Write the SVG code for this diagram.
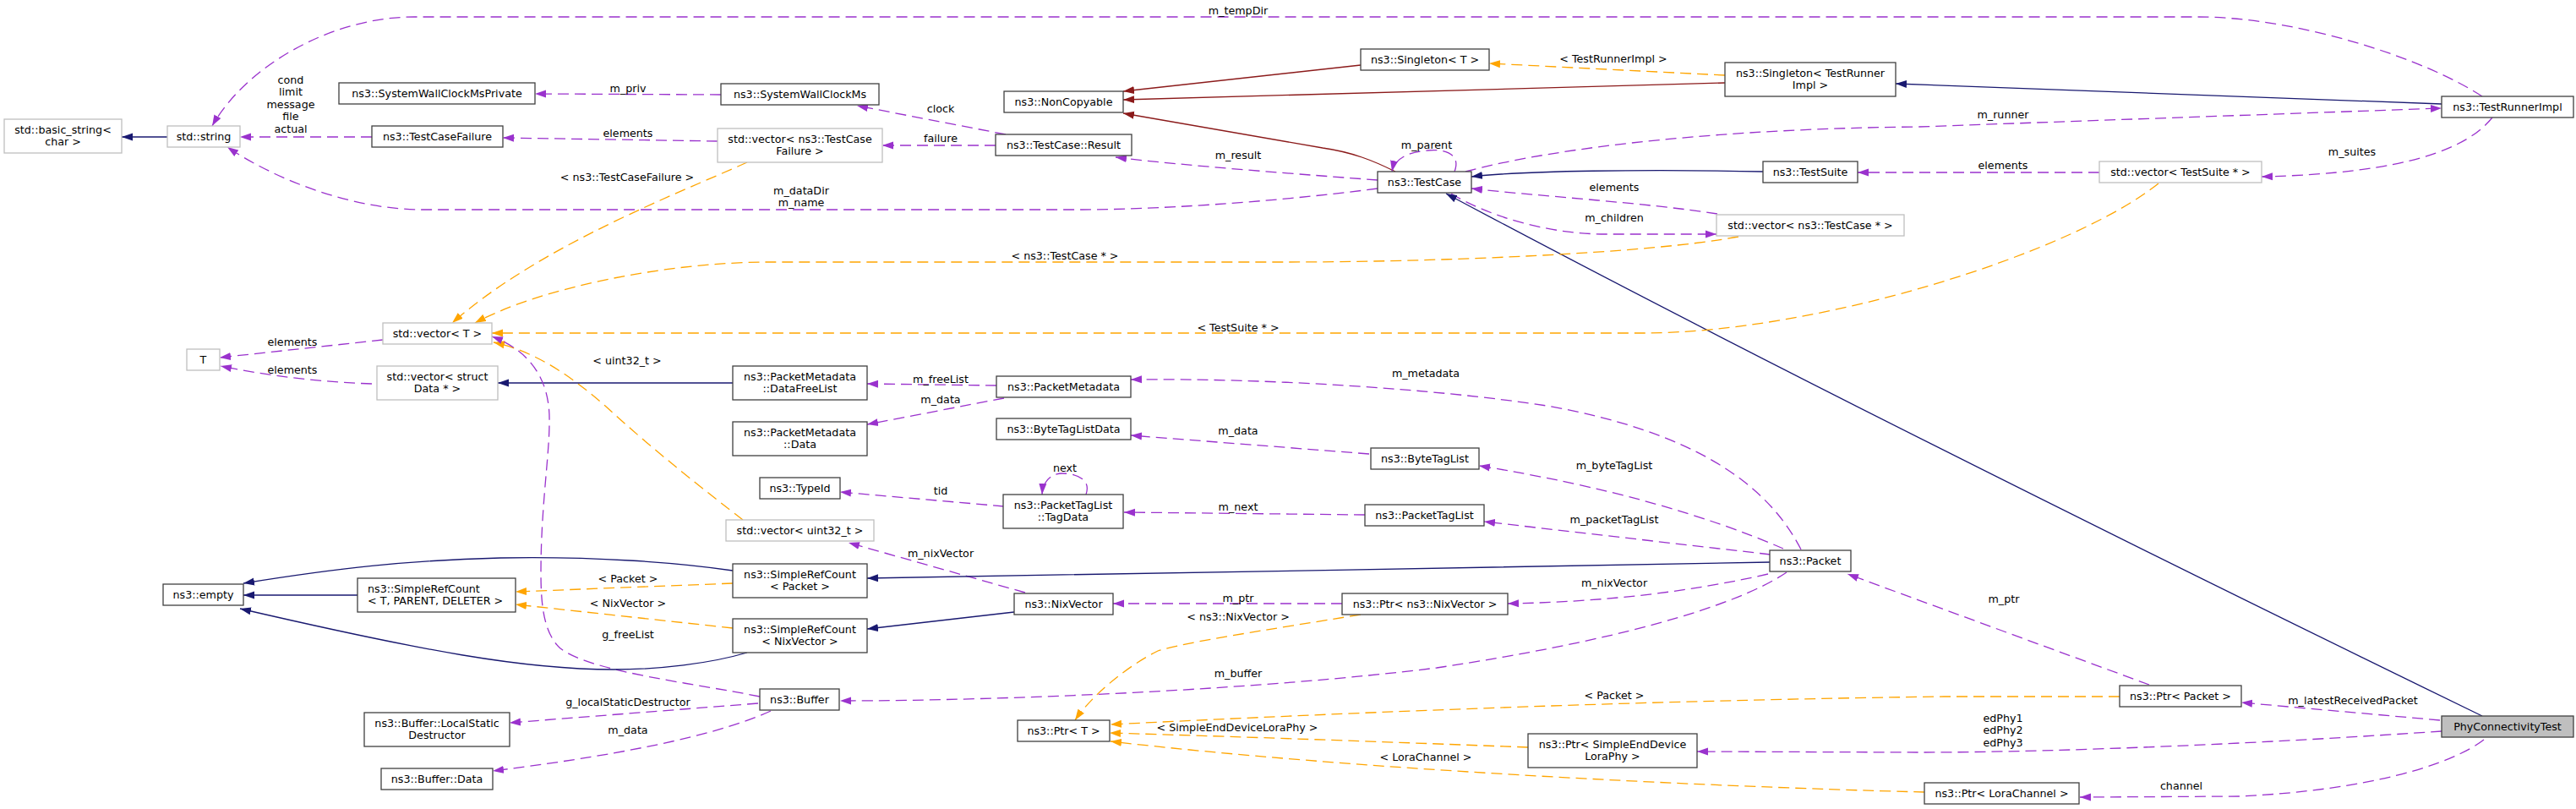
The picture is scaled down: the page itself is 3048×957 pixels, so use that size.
<svg xmlns="http://www.w3.org/2000/svg" width="3048" height="957" viewBox="0 0 3048 957">
<style>
text{font-family:"DejaVu Sans","Liberation Sans",sans-serif;font-size:12.7px;fill:#000;text-anchor:middle}
.n rect{fill:#fff;stroke:#404040;stroke-width:1.3}
.g rect{fill:#fff;stroke:#bfbfbf;stroke-width:1.3}
.h rect{fill:#bfbfbf;stroke:#404040;stroke-width:1.3}
#edges path{fill:none;stroke-width:1.3}
#edges .u{stroke:#9a32cd;stroke-dasharray:13,7;marker-end:url(#ap)}
#edges .t{stroke:#ffa500;stroke-dasharray:13,7;marker-end:url(#ao)}
#edges .i{stroke:#191970;marker-end:url(#an)}
#edges .r{stroke:#8b1a1a;marker-end:url(#ar)}
.l{text-anchor:start}
</style>
<defs>
<marker id="ap" markerUnits="userSpaceOnUse" markerWidth="14" markerHeight="10" viewBox="0 0 14 10" refX="13" refY="5" orient="auto"><path d="M0,0.5 L13,5 L0,9.5 z" fill="#9a32cd" stroke="none"/></marker>
<marker id="ao" markerUnits="userSpaceOnUse" markerWidth="14" markerHeight="10" viewBox="0 0 14 10" refX="13" refY="5" orient="auto"><path d="M0,0.5 L13,5 L0,9.5 z" fill="#ffa500" stroke="none"/></marker>
<marker id="an" markerUnits="userSpaceOnUse" markerWidth="14" markerHeight="10" viewBox="0 0 14 10" refX="13" refY="5" orient="auto"><path d="M0,0.5 L13,5 L0,9.5 z" fill="#191970" stroke="none"/></marker>
<marker id="ar" markerUnits="userSpaceOnUse" markerWidth="14" markerHeight="10" viewBox="0 0 14 10" refX="13" refY="5" orient="auto"><path d="M0,0.5 L13,5 L0,9.5 z" fill="#8b1a1a" stroke="none"/></marker>
</defs>
<rect width="3048" height="957" fill="#fff"/>
<g id="edges">
<path class="i" d="M198,162 L144,162"/>
<path class="r" d="M1651,203 C1625,190 1600,180 1565,175 L1329,134"/>
<path class="r" d="M1610,77 L1329,108"/>
<path class="r" d="M2041,98 L1329,118"/>
<path class="t" d="M2041,89 L1762,75"/>
<path class="i" d="M2889,123 L2243,99"/>
<path class="u" d="M2937,114 C2870,70 2720,20 2600,20 L490,20 C390,20 290,80 251,149"/>
<path class="u" d="M1630,223 C1500,240 1360,248 1280,248 L500,248 C420,248 330,215 269,174"/>
<path class="u" d="M440,162 L284,162"/>
<path class="u" d="M853,112 L633,111"/>
<path class="u" d="M849,167 L595,163"/>
<path class="u" d="M1190,159 L1014,125"/>
<path class="u" d="M1178,172 L1044,172"/>
<path class="u" d="M1630,213 C1550,207 1400,196 1320,186"/>
<path class="u" d="M1734,203 C1850,172 2050,152 2270,150 L2889,128"/>
<path class="u" d="M1721,203 C1730,180 1705,176 1689,178 C1665,180 1650,188 1647,203"/>
<path class="i" d="M2086,203 C1950,200 1800,202 1741,209"/>
<path class="u" d="M2949,139 C2920,175 2850,205 2676,209"/>
<path class="u" d="M2484,204 L2198,204"/>
<path class="u" d="M2032,253 C1950,240 1820,232 1741,223"/>
<path class="u" d="M1717,229 C1760,255 1830,277 1900,277 L2031,277"/>
<path class="i" d="M2937,847 C2450,610 2050,410 1711,229"/>
<path class="t" d="M884,192 C800,230 640,290 535,382"/>
<path class="t" d="M2057,280 C1950,300 1700,310 1520,310 L910,310 C790,310 640,340 562,382"/>
<path class="t" d="M2554,217 C2450,300 2150,394 1943,394 L582,394"/>
<path class="t" d="M879,615 C840,585 770,530 716,480 C670,440 630,415 584,405"/>
<path class="t" d="M867,690 L610,700"/>
<path class="t" d="M867,743 L610,715"/>
<path class="t" d="M1610,727 C1500,745 1400,760 1370,770 C1330,790 1290,825 1272,852"/>
<path class="t" d="M2508,824 L2300,824 C2000,828 1700,838 1314,857"/>
<path class="t" d="M1808,884 C1700,880 1550,874 1313,867"/>
<path class="t" d="M2277,937 C2000,930 1600,910 1314,877"/>
<path class="i" d="M867,453 L589,453"/>
<path class="u" d="M1179,456 L1026,454"/>
<path class="u" d="M1188,471 C1140,480 1080,492 1026,502"/>
<path class="u" d="M453,402 L260,423"/>
<path class="u" d="M440,454 C380,452 320,445 261,433"/>
<path class="u" d="M2131,650 C2090,570 2000,510 1830,480 C1700,460 1500,447 1338,449"/>
<path class="u" d="M1620,537 L1338,515"/>
<path class="u" d="M2110,649 C2020,610 1900,575 1750,551"/>
<path class="u" d="M1615,609 L1330,606"/>
<path class="u" d="M2095,656 L1756,617"/>
<path class="u" d="M1188,599 L994,582"/>
<path class="u" d="M1285,585 C1292,565 1270,560 1257,560 C1243,560 1234,570 1233,585"/>
<path class="u" d="M1213,701 L1004,642"/>
<path class="i" d="M2095,665 C1800,670 1300,680 1026,684"/>
<path class="i" d="M1200,724 L1026,744"/>
<path class="u" d="M1588,714 L1317,714"/>
<path class="u" d="M2092,679 C2000,700 1900,712 1784,714"/>
<path class="u" d="M2114,677 C2050,720 1900,760 1700,790 C1500,815 1200,829 994,829"/>
<path class="u" d="M899,824 C820,808 700,795 663,767 C642,748 640,710 640,677 C640,600 650,540 650,500 C651,465 640,420 582,398"/>
<path class="u" d="M897,832 L603,855"/>
<path class="u" d="M912,841 C860,865 760,890 583,912"/>
<path class="u" d="M2543,810 L2186,679"/>
<path class="u" d="M2887,852 L2652,831"/>
<path class="u" d="M2889,865 C2700,878 2450,890 2270,890 L2008,889"/>
<path class="u" d="M2939,875 C2900,905 2800,935 2650,942 L2461,943"/>
<path class="i" d="M867,675 C800,665 700,658 592,660 C480,663 400,672 288,690"/>
<path class="i" d="M423,704 L288,704"/>
<path class="i" d="M884,772 C840,785 780,792 726,792 C620,792 500,770 284,720"/>
</g>
<g id="edge-labels">
<text x="1465" y="16.5">m_tempDir</text>
<text x="743" y="108.5">m_priv</text>
<text x="344" y="98.5">cond</text>
<text x="344" y="113">limit</text>
<text x="344" y="127.5">message</text>
<text x="344" y="142">file</text>
<text x="344" y="156.5">actual</text>
<text x="743" y="161.5">elements</text>
<text x="1113" y="132.5">clock</text>
<text x="1113" y="167.5">failure</text>
<text x="1465" y="187.5">m_result</text>
<text x="948" y="229.5">m_dataDir</text>
<text x="948" y="244">m_name</text>
<text x="742" y="213.5">&lt; ns3::TestCaseFailure &gt;</text>
<text x="1260" y="306.5">&lt; ns3::TestCase * &gt;</text>
<text x="1465" y="391.5">&lt; TestSuite * &gt;</text>
<text x="1909" y="73.5">&lt; TestRunnerImpl &gt;</text>
<text x="1688" y="175.5">m_parent</text>
<text x="1910" y="225.5">elements</text>
<text x="1910" y="261.5">m_children</text>
<text x="2370" y="139.5">m_runner</text>
<text x="2370" y="199.5">elements</text>
<text x="2783" y="183.5">m_suites</text>
<text x="346" y="408.5">elements</text>
<text x="346" y="441.5">elements</text>
<text x="742" y="430.5">&lt; uint32_t &gt;</text>
<text x="1113" y="452.5">m_freeList</text>
<text x="1113" y="476.5">m_data</text>
<text x="1687" y="445.5">m_metadata</text>
<text x="1465" y="513.5">m_data</text>
<text x="1260" y="557.5">next</text>
<text x="1113" y="584.5">tid</text>
<text x="1465" y="603.5">m_next</text>
<text x="1910" y="554.5">m_byteTagList</text>
<text x="1910" y="618.5">m_packetTagList</text>
<text x="1113" y="658.5">m_nixVector</text>
<text x="1910" y="693.5">m_nixVector</text>
<text x="1465" y="711.5">m_ptr</text>
<text x="1465" y="733.5">&lt; ns3::NixVector &gt;</text>
<text x="743" y="688.5">&lt; Packet &gt;</text>
<text x="743" y="717.5">&lt; NixVector &gt;</text>
<text x="743" y="754.5">g_freeList</text>
<text x="1465" y="800.5">m_buffer</text>
<text x="743" y="834.5">g_localStaticDestructor</text>
<text x="743" y="867.5">m_data</text>
<text x="1910" y="826.5">&lt; Packet &gt;</text>
<text x="1464" y="864.5">&lt; SimpleEndDeviceLoraPhy &gt;</text>
<text x="1687" y="899.5">&lt; LoraChannel &gt;</text>
<text x="2371" y="712.5">m_ptr</text>
<text x="2784" y="832.5">m_latestReceivedPacket</text>
<text x="2370" y="853.5">edPhy1</text>
<text x="2370" y="868">edPhy2</text>
<text x="2370" y="882.5">edPhy3</text>
<text x="2581" y="933.5">channel</text>
</g>
<g id="basic_string" class="g"><rect x="5" y="141" width="139" height="40"/><text x="74.5" y="157.5">std::basic_string&lt;</text><text x="74.5" y="171.5">char &gt;</text></g>
<g id="string" class="g"><rect x="198" y="149" width="86" height="25"/><text x="241" y="166">std::string</text></g>
<g id="SystemWallClockMsPrivate" class="n"><rect x="401" y="98" width="232" height="25"/><text x="517" y="115">ns3::SystemWallClockMsPrivate</text></g>
<g id="TestCaseFailure" class="n"><rect x="440" y="149" width="155" height="25"/><text x="517.5" y="166">ns3::TestCaseFailure</text></g>
<g id="SystemWallClockMs" class="n"><rect x="853" y="99" width="187" height="25"/><text x="946.5" y="116">ns3::SystemWallClockMs</text></g>
<g id="vector_TestCaseFailure" class="g"><rect x="849" y="152" width="195" height="40"/><text x="946.5" y="168.5">std::vector&lt; ns3::TestCase</text><text x="946.5" y="182.5">Failure &gt;</text></g>
<g id="NonCopyable" class="n"><rect x="1188" y="108" width="141" height="25"/><text x="1258.5" y="125">ns3::NonCopyable</text></g>
<g id="TestCase_Result" class="n"><rect x="1178" y="159" width="161" height="25"/><text x="1258.5" y="176">ns3::TestCase::Result</text></g>
<g id="Singleton_T" class="n"><rect x="1610" y="58" width="152" height="25"/><text x="1686" y="75">ns3::Singleton&lt; T &gt;</text></g>
<g id="Singleton_TestRunnerImpl" class="n"><rect x="2041" y="74" width="202" height="40"/><text x="2142" y="90.5">ns3::Singleton&lt; TestRunner</text><text x="2142" y="104.5">Impl &gt;</text></g>
<g id="TestRunnerImpl" class="n"><rect x="2889" y="114" width="156" height="25"/><text x="2967" y="131">ns3::TestRunnerImpl</text></g>
<g id="TestCase" class="n"><rect x="1630" y="203" width="111" height="25"/><text x="1685.5" y="220">ns3::TestCase</text></g>
<g id="TestSuite" class="n"><rect x="2086" y="191" width="112" height="25"/><text x="2142" y="208">ns3::TestSuite</text></g>
<g id="vector_TestSuite" class="g"><rect x="2484" y="191" width="192" height="25"/><text x="2580" y="208">std::vector&lt; TestSuite * &gt;</text></g>
<g id="vector_TestCase" class="g"><rect x="2031" y="254" width="222" height="25"/><text x="2142" y="271">std::vector&lt; ns3::TestCase * &gt;</text></g>
<g id="vector_T" class="g"><rect x="453" y="382" width="129" height="25"/><text x="517.5" y="399">std::vector&lt; T &gt;</text></g>
<g id="T" class="g"><rect x="221" y="413" width="39" height="25"/><text x="240.5" y="430">T</text></g>
<g id="vector_Data" class="g"><rect x="446" y="433" width="143" height="40"/><text x="517.5" y="449.5">std::vector&lt; struct</text><text x="517.5" y="463.5">Data * &gt;</text></g>
<g id="DataFreeList" class="n"><rect x="867" y="433" width="159" height="40"/><text x="946.5" y="449.5">ns3::PacketMetadata</text><text x="946.5" y="463.5">::DataFreeList</text></g>
<g id="PacketMetadata" class="n"><rect x="1179" y="445" width="159" height="25"/><text x="1258.5" y="462">ns3::PacketMetadata</text></g>
<g id="PacketMetadata_Data" class="n"><rect x="867" y="499" width="159" height="40"/><text x="946.5" y="515.5">ns3::PacketMetadata</text><text x="946.5" y="529.5">::Data</text></g>
<g id="ByteTagListData" class="n"><rect x="1179" y="495" width="159" height="25"/><text x="1258.5" y="512">ns3::ByteTagListData</text></g>
<g id="ByteTagList" class="n"><rect x="1622" y="530" width="128" height="25"/><text x="1686" y="547">ns3::ByteTagList</text></g>
<g id="TypeId" class="n"><rect x="899" y="565" width="95" height="25"/><text x="946.5" y="582">ns3::TypeId</text></g>
<g id="TagData" class="n"><rect x="1187" y="585" width="142" height="40"/><text x="1258" y="601.5">ns3::PacketTagList</text><text x="1258" y="615.5">::TagData</text></g>
<g id="PacketTagList" class="n"><rect x="1615" y="597" width="141" height="25"/><text x="1685.5" y="614">ns3::PacketTagList</text></g>
<g id="vector_uint32" class="g"><rect x="859" y="615" width="175" height="25"/><text x="946.5" y="632">std::vector&lt; uint32_t &gt;</text></g>
<g id="SRC_Packet" class="n"><rect x="867" y="667" width="159" height="40"/><text x="946.5" y="683.5">ns3::SimpleRefCount</text><text x="946.5" y="697.5">&lt; Packet &gt;</text></g>
<g id="empty" class="n"><rect x="193" y="691" width="95" height="25"/><text x="240.5" y="708">ns3::empty</text></g>
<g id="SRC_T" class="n"><rect x="423" y="684" width="187" height="40"/><text class="l" x="435" y="700.5">ns3::SimpleRefCount</text><text class="l" x="435" y="714.5">&lt; T, PARENT, DELETER &gt;</text></g>
<g id="NixVector" class="n"><rect x="1200" y="702" width="117" height="25"/><text x="1258.5" y="719">ns3::NixVector</text></g>
<g id="Ptr_NixVector" class="n"><rect x="1588" y="702" width="196" height="25"/><text x="1686" y="719">ns3::Ptr&lt; ns3::NixVector &gt;</text></g>
<g id="Packet" class="n"><rect x="2094" y="651" width="96" height="25"/><text x="2142" y="668">ns3::Packet</text></g>
<g id="SRC_NixVector" class="n"><rect x="867" y="732" width="159" height="40"/><text x="946.5" y="748.5">ns3::SimpleRefCount</text><text x="946.5" y="762.5">&lt; NixVector &gt;</text></g>
<g id="Buffer" class="n"><rect x="899" y="815" width="94" height="25"/><text x="946" y="832">ns3::Buffer</text></g>
<g id="Ptr_Packet" class="n"><rect x="2508" y="811" width="144" height="25"/><text x="2580" y="828">ns3::Ptr&lt; Packet &gt;</text></g>
<g id="LocalStaticDestructor" class="n"><rect x="431" y="843" width="172" height="40"/><text x="517" y="859.5">ns3::Buffer::LocalStatic</text><text x="517" y="873.5">Destructor</text></g>
<g id="Ptr_T" class="n"><rect x="1204" y="852" width="109" height="25"/><text x="1258.5" y="869">ns3::Ptr&lt; T &gt;</text></g>
<g id="PhyConnectivityTest" class="h"><rect x="2889" y="847" width="156" height="25"/><text x="2967" y="864">PhyConnectivityTest</text></g>
<g id="Ptr_SimpleEndDeviceLoraPhy" class="n"><rect x="1808" y="868" width="200" height="40"/><text x="1908" y="884.5">ns3::Ptr&lt; SimpleEndDevice</text><text x="1908" y="898.5">LoraPhy &gt;</text></g>
<g id="Buffer_Data" class="n"><rect x="451" y="909" width="132" height="25"/><text x="517" y="926">ns3::Buffer::Data</text></g>
<g id="Ptr_LoraChannel" class="n"><rect x="2277" y="926" width="183" height="25"/><text x="2368.5" y="943">ns3::Ptr&lt; LoraChannel &gt;</text></g>
</svg>
